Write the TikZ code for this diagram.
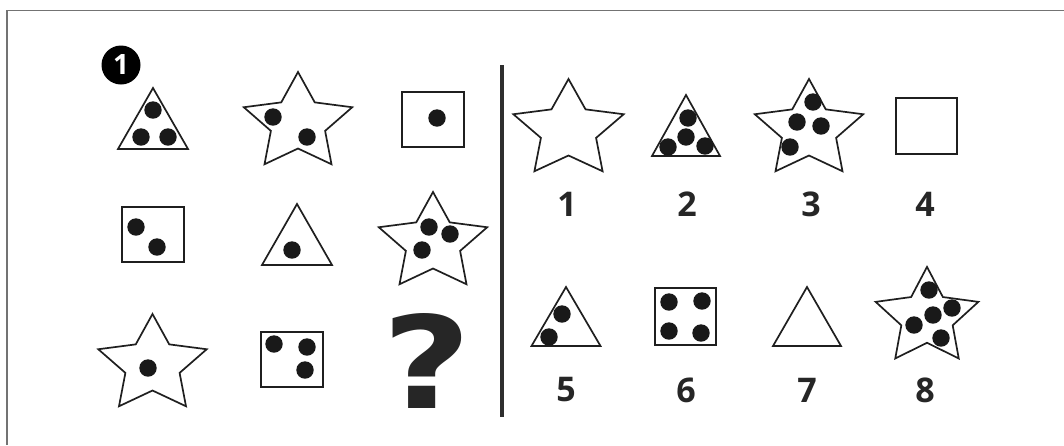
\documentclass[tikz,border=0pt]{standalone}
\usepackage{fontspec}
\newfontfamily\labfont{Open Sans}
\newfontfamily\qfont{DejaVu Sans}
\tikzset{
  shp/.style={draw=black!88, line width=1.7pt, line join=miter, fill=white},
  dotc/.style={fill=black!90},
  lab/.style={font=\labfont\bfseries\fontsize{34}{36}\selectfont, text=black!85, inner sep=0pt},
}
\newcommand\mystar[4]{%
  \draw[shp] ({#1},{#2-#4})
    \foreach \a/\f in {126/0.5,162/1,198/0.5,234/1,270/0.5,306/1,342/0.5,18/1,54/0.5}
      { -- ({#1+#3*\f*cos(\a)},{#2-#4*\f*sin(\a)}) } -- cycle;}
\newcommand\mytri[4]{% apex x, apex y, base y, half width
  \draw[shp] (#1,#2) -- ({#1+#4},#3) -- ({#1-#4},#3) -- cycle;}
\newcommand\dt[2]{\fill[dotc] (#1,#2) circle (8.7pt);}
\begin{document}
\begin{tikzpicture}[x=1pt,y=-1pt]
\useasboundingbox (0,0) rectangle (1064,445);
\fill[white] (0,0) rectangle (1064,445);
% frame
\draw[black!55, line width=1.3pt] (7,445) -- (7,10.5) -- (1064,10.5);
% badge
\fill[black] (121,65) circle (19.5pt);
\node[font=\labfont\bfseries\fontsize{28}{30}\selectfont, text=white, inner sep=0pt] (badge) at (121,65) {1};
% separator
\draw[black!82, line width=4.5pt] (502,65) -- (502,417);

% ---- left grid ----
% row 1
\mytri{153}{88}{149}{35}
\dt{153}{110}\dt{141}{137}\dt{168}{137}
\mystar{298}{123}{57}{51}
\dt{273}{117}\dt{307}{137}
\draw[shp] (402,92) rectangle (464,147);
\dt{437}{118}
% row 2
\draw[shp] (122,207) rectangle (184,262);
\dt{136}{227}\dt{157}{247}
\mytri{297}{204}{265}{35}
\dt{292}{250}
\mystar{433}{243}{57}{51}
\dt{429}{227}\dt{450}{234}\dt{422}{250}
% row 3
\mystar{152.5}{365}{57}{51}
\dt{148}{368}
\draw[shp] (261,332) rectangle (323,387);
\dt{274}{344}\dt{307}{347}\dt{305}{370}
\node[font=\qfont\bfseries\fontsize{128}{130}\selectfont, text=black!85, inner sep=0pt, xscale=1.2] (qm) at (427,361) {?};

% ---- right options ----
\mystar{568.5}{130}{58}{51}
\mytri{686}{95}{156}{34}
\dt{688}{118}\dt{686}{137}\dt{668}{147}\dt{705}{146}
\mystar{809}{130}{57}{51}
\dt{813}{102}\dt{797}{122}\dt{821}{126}\dt{790}{147}
\draw[shp] (896,98) rectangle (957,154);

\mytri{566}{287}{346}{34.5}
\dt{562}{314}\dt{549}{337}
\draw[shp] (655,288) rectangle (716,345);
\dt{669}{302}\dt{702}{301}\dt{669}{331}\dt{701}{333}
\mytri{807}{287}{346}{34}
\mystar{927}{317.5}{54}{50.6}
\dt{929}{290}\dt{952}{308}\dt{933}{315}\dt{914}{325}\dt{941}{338}

\node[lab] (l1) at (567,204) {1};
\node[lab] (l2) at (687,204) {2};
\node[lab] (l3) at (811,204) {3};
\node[lab] (l4) at (925,204) {4};
\node[lab] (l5) at (566,390) {5};
\node[lab] (l6) at (686,390) {6};
\node[lab] (l7) at (807,390) {7};
\node[lab] (l8) at (925,390) {8};
\end{tikzpicture}
\end{document}
